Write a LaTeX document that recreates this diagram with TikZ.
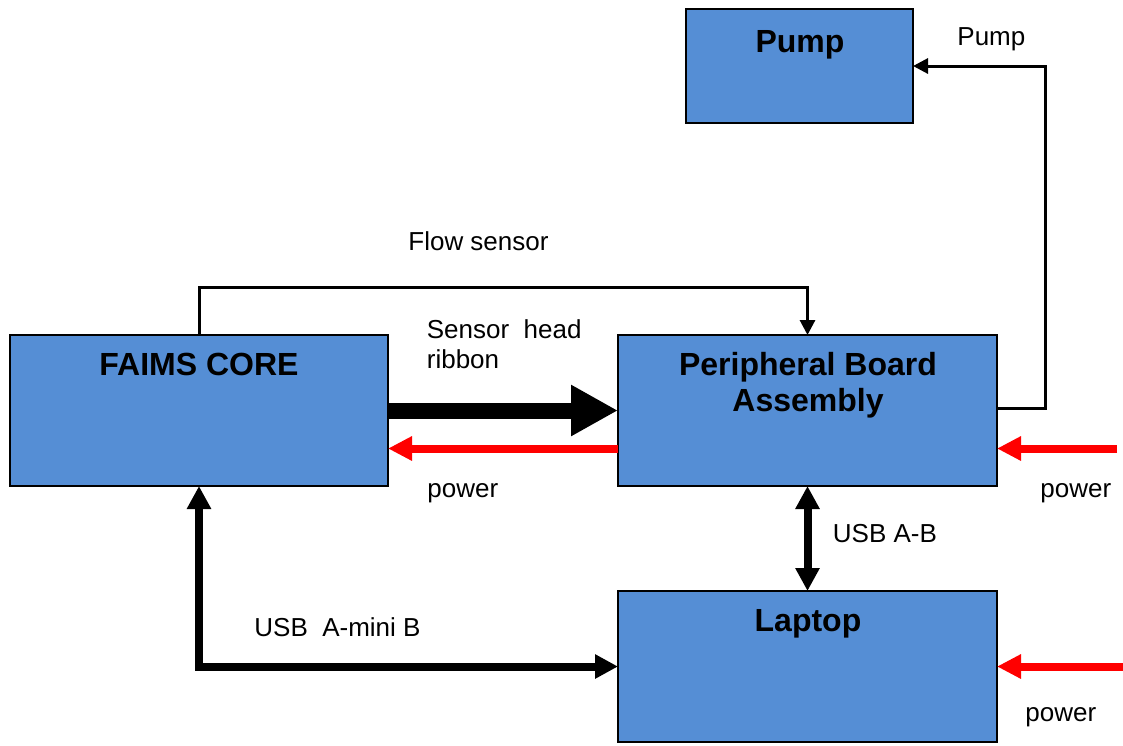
\documentclass[tikz,border=0pt]{standalone}
\usepackage{fontspec}
\setmainfont{Liberation Sans}
\usetikzlibrary{arrows.meta}
\definecolor{boxblue}{RGB}{85,142,213}
\definecolor{pwrred}{RGB}{255,0,0}
\tikzset{
  box/.style={rectangle, draw=black, line width=0.75pt, fill=boxblue, inner sep=0pt, outer sep=0pt},
  title/.style={inner sep=0pt, anchor=base, font=\bfseries\fontsize{16pt}{18pt}\selectfont},
  lbl/.style={inner sep=0pt, anchor=base west, font=\fontsize{13pt}{15pt}\selectfont},
  thinarrow/.style={line width=1.5pt, -{Triangle[length=7.5pt,width=7.5pt]}},
  thickarrow/.style={line width=4pt, -{Triangle[length=11.5pt,width=11.5pt]}},
  thickboth/.style={line width=4pt, {Triangle[length=11.5pt,width=11.5pt]}-{Triangle[length=11.5pt,width=11.5pt]}},
  pwrarrow/.style={line width=4pt, draw=pwrred, -{Triangle[length=12pt,width=11.5pt]}},
  bigarrow/.style={line width=8pt, -{Triangle[length=23.5pt,width=24pt]}},
}
\begin{document}
\begin{tikzpicture}[x=0.5pt,y=-0.5pt]
\path[use as bounding box, fill=white] (0,0) rectangle (1123,745);
% boxes
\node[box, minimum width=189pt, minimum height=75.5pt] (faims) at (199,410.5) {};
\node[box, minimum width=189.5pt, minimum height=75.5pt] (periph) at (807.5,410.5) {};
\node[box, minimum width=189.5pt, minimum height=75.5pt] (laptop) at (807.5,666.5) {};
\node[box, minimum width=113.5pt, minimum height=57pt] (pump) at (799.5,66) {};
% titles
\node[title] (faimsT) at (199,375) {FAIMS CORE};
\node[title] (periphT1) at (808,375) {Peripheral Board};
\node[title] (periphT2) at (808,411.5) {Assembly};
\node[title] (laptopT) at (808,631.5) {Laptop};
\node[title] (pumpT) at (800,52) {Pump};
% free ends
\coordinate (pwrA) at (1117,448.5);
\coordinate (pwrB) at (1123,666.5);
% connectors
\draw[thinarrow] (faims.north) -- ++(0,-48) -| (periph.north);
\draw[thinarrow] ([yshift=1pt]periph.east) -- ++(48,0) |- (pump.east);
\draw[bigarrow] (faims.east) -- (periph.west);
\draw[pwrarrow] ([yshift=-19pt]periph.west) -- ([yshift=-19pt]faims.east);
\draw[pwrarrow] (pwrA) -- ([yshift=-19pt]periph.east);
\draw[pwrarrow] (pwrB) -- (laptop.east);
\draw[thickboth] (periph.south) -- (laptop.north);
\draw[thickboth] (faims.south) |- (laptop.west);
% labels
\node[lbl] (lPump) at (957,45) {Pump};
\node[lbl] (lFlow) at (408,250) {Flow sensor};
\node[lbl] (lSens1) at (426.5,338.5) {Sensor\ \ head};
\node[lbl] (lSens2) at (426.5,368) {ribbon};
\node[lbl] (lPwr1) at (427,497) {power};
\node[lbl] (lPwr2) at (1040,497) {power};
\node[lbl] (lPwr3) at (1025,721) {power};
\node[lbl] (lUsbAB) at (832.5,542.5) {USB A-B};
\node[lbl] (lUsbMini) at (254,636) {USB\ \ A-mini B};
\end{tikzpicture}
\end{document}
